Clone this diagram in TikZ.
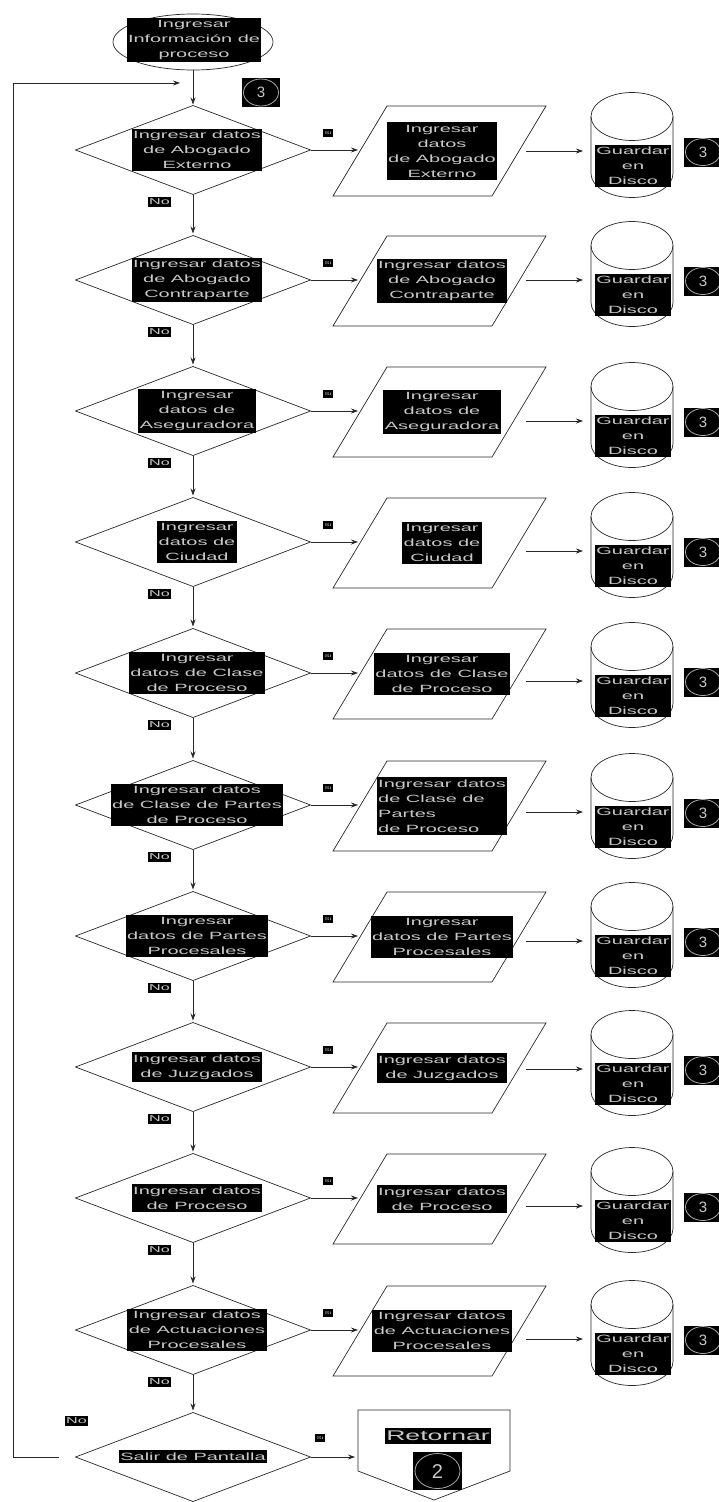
\documentclass[tikz,border=0pt]{standalone}
\usepackage{fontspec}
\newfontfamily\shfont[FakeStretch=1.9]{Liberation Sans}
\newfontfamily\plainsf{Liberation Sans}
\usetikzlibrary{arrows.meta,shapes.geometric,calc}
\definecolor{tgrey}{RGB}{200,200,200}
\definecolor{rgrey}{RGB}{170,170,170}
\definecolor{ln}{RGB}{40,40,40}
\tikzset{
  line/.style={draw=ln,line width=0.7pt},
  arr/.style={line,-{Stealth[length=7pt,width=5pt]}},
  dec/.style={diamond,draw=ln,line width=0.7pt,minimum width=235pt,minimum height=89pt,inner sep=0pt,outer sep=0pt},
  parab/.style={minimum width=159pt,minimum height=90pt,inner sep=0pt,outer sep=0pt},
  cylb/.style={minimum width=82pt,minimum height=105pt,inner sep=0pt,outer sep=0pt},
  txt/.style={fill=black,text=tgrey,font=\shfont\fontsize{10.5}{15}\selectfont,align=center,inner xsep=1.5pt,inner ysep=2.5pt},
  badge/.style={fill=black,minimum width=38pt,minimum height=29pt,inner sep=0pt},
  ring/.style={ellipse,draw=rgrey,line width=0.8pt,minimum width=35pt,minimum height=27pt,inner sep=0pt,text=tgrey,font=\plainsf\fontsize{15}{15}\selectfont},
  silab/.style={fill=black,text=tgrey,font=\shfont\fontsize{4}{4}\selectfont,inner sep=1pt,minimum width=10pt,minimum height=8pt},
  nolab/.style={fill=black,text=tgrey,font=\shfont\fontsize{8.5}{8.5}\selectfont,inner sep=1pt,minimum width=23pt,minimum height=10pt},
  retb/.style={minimum width=152pt,minimum height=90pt,inner sep=0pt,outer sep=0pt}
}
\newcommand\drum[3]{%
  \node[cylb] (#1) at ({#2},{#3}) {};
  \draw[line] ([yshift=-24pt]#1.north) ellipse [x radius=41pt, y radius=24pt];
  \draw[line] ([yshift=-24pt]#1.north west) -- ([yshift=24pt]#1.south west)
     arc[start angle=180,end angle=360,x radius=41pt,y radius=24pt]
     -- ([yshift=-24pt]#1.north east);}
\newcommand\slanted[3]{%
  \node[parab] (#1) at ({#2},{#3}) {};
  \draw[line] ([xshift=27pt]#1.north west) -- ([xshift=27pt]#1.north east)
     -- ([xshift=-27pt]#1.south east) -- ([xshift=-27pt]#1.south west) -- cycle;}
\newcommand\rowblk[6]{%
  \node[dec] (d#1) at (193,#2) {};
  \node[txt] (dt#1) at (197,#2) {#4};
  \slanted{p#1}{439.5}{#2+1}
  \node[txt,align=#6] (pt#1) at ({442},{#2+1}) {#5};
  \drum{c#1}{632}{#2+#3}
  \node[txt] (ct#1) at ({633},{#2+#3+21}) {Guardar\\en\\Disco};
  \node[badge] (b#1) at ({703},{#2+#3+7}) {};
  \node[ring] (r#1) at ({703},{#2+#3+7}) {3};
  \coordinate (a#1) at ([yshift=-6pt]c#1.west);
  \draw[arr,shorten >=2pt] (d#1.east) -- (d#1.east -| p#1.west);
  \draw[arr,shorten <=7pt,shorten >=8pt] (p#1.east |- a#1) -- (a#1);
  \node[silab] (s#1) at ({328},{#2-17}) {Si};
  \node[nolab] (n#1) at ({159.5},{#2+52}) {No};
}
\begin{document}
\begin{tikzpicture}[x=1pt,y=-1pt]
\useasboundingbox (0,0) rectangle (718,1502);
\fill[white] (0,0) rectangle (718,1502);
% start
\node[ellipse,draw=ln,line width=0.7pt,minimum width=160pt,minimum height=56pt,inner sep=0pt] (start) at (193,42) {};
\node[txt] (startt) at (194,40) {Ingresar\\Información de\\proceso};
\node[badge] (b0) at (261,92.5) {};
\node[ring] (r0) at (261,92.5) {3};
% rows
\rowblk{1}{150}{-5}{Ingresar datos\\de Abogado\\Externo}{Ingresar\\datos\\de Abogado\\Externo}{center}
\rowblk{2}{280}{-6}{Ingresar datos\\de Abogado\\Contraparte}{Ingresar datos\\de Abogado\\Contraparte}{center}
\rowblk{3}{411}{4}{Ingresar\\datos de\\Aseguradora}{Ingresar\\datos de\\Aseguradora}{center}
\rowblk{4}{542}{3}{Ingresar\\datos de\\Ciudad}{Ingresar\\datos de\\Ciudad}{center}
\rowblk{5}{673}{2}{Ingresar\\datos de Clase\\de Proceso}{Ingresar\\datos de Clase\\de Proceso}{center}
\rowblk{6}{805}{1}{Ingresar datos\\de Clase de Partes\\de Proceso}{Ingresar datos\\de Clase de\\Partes\\de Proceso}{left}
\rowblk{7}{936}{-1}{Ingresar\\datos de Partes\\Procesales}{Ingresar\\datos de Partes\\Procesales}{center}
\rowblk{8}{1067}{-4}{Ingresar datos\\de Juzgados}{Ingresar datos\\de Juzgados}{center}
\rowblk{9}{1198}{2}{Ingresar datos\\de Proceso}{Ingresar datos\\de Proceso}{center}
\rowblk{10}{1330}{3}{Ingresar datos\\de Actuaciones\\Procesales}{Ingresar datos\\de Actuaciones\\Procesales}{center}
% salir
\node[dec] (d11) at (193,1457) {};
\node[txt] (dt11) at (193,1456.5) {Salir de Pantalla};
\node[retb] (ret) at (434,1455) {};
\draw[line] (ret.north west) -- (ret.north east) -- ([yshift=29pt]ret.south east) -- (ret.south) -- ([yshift=29pt]ret.south west) -- cycle;
\node[txt,font=\shfont\fontsize{14}{14}\selectfont,inner ysep=3pt] (rett) at (438,1436) {Retornar};
\node[badge,minimum width=49pt,minimum height=38pt] (b12) at (437.5,1471) {};
\node[ring,minimum width=45pt,minimum height=35pt,font=\plainsf\fontsize{20}{20}\selectfont] (r12) at (437.5,1471) {2};
\node[silab] (s11) at (320,1438) {Si};
\node[nolab] (n11) at (76.5,1421) {No};
% vertical flow
\draw[arr,shorten >=1pt] (start.south) -- (d1.north);
\foreach \i [evaluate=\i as \j using int(\i+1)] in {1,...,10}{
  \draw[arr,shorten >=2pt] (d\i.south) -- (d\j.north);
}
\draw[arr,shorten >=3pt] (d11.east) -- (d11.east -| ret.west);
% loop back
\coordinate (lp1) at (13,1457);
\coordinate (lp2) at (13,83);
\coordinate (lp3) at (180,83);
\draw[arr,shorten <=17pt] (d11.west) -- (lp1) -- (lp2) -- (lp3);
\end{tikzpicture}
\end{document}
